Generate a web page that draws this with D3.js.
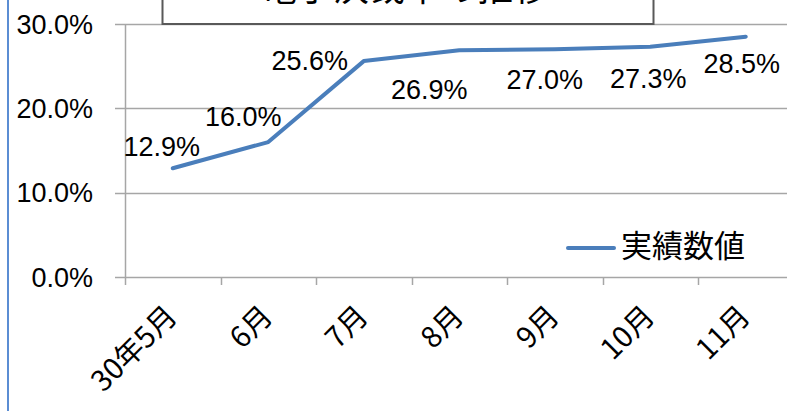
<html>
<head>
<meta charset="utf-8">
<script src="https://d3js.org/d3.v7.min.js"></script>
<style>
  body { margin: 0; background: #fff; }
  svg { display: block; }
</style>
</head>
<body>
<svg id="chart"></svg>
<script>
// 月ごとの実績
var months = ["30年5月", "6月", "7月", "8月", "9月", "10月", "11月"];
var rates = [0.129, 0.160, 0.256, 0.269, 0.270, 0.273, 0.285];
var yTicks = [0, 0.1, 0.2, 0.3];
var seriesName = "実績数値";
var titleText = "電子決裁率の推移";

// ラベルのずらし量 (px)
var labelShift = [[-11, -22], [-25, -26], [-54, -1], [-30, 39], [-10, 30], [-2, 32], [-4, 27]];

var W = 787, H = 411;
var svg = d3.select("#chart").attr("width", W).attr("height", H);
var jp = "'Noto Sans CJK JP', sans-serif";
var num = "'Liberation Sans', 'DejaVu Sans', sans-serif";

var x = d3.scaleBand().domain(months).range([125, 125 + 7 * 95.5]).paddingInner(0).paddingOuter(0);
var y = d3.scaleLinear().domain([0, 0.3]).range([277, 24]);
var cx = function(m) { return x(m) + x.bandwidth() / 2; };

// 左端の青線
svg.append("line").attr("x1", 8).attr("x2", 8).attr("y1", 0).attr("y2", H)
  .attr("stroke", "#5B8DD3").attr("stroke-width", 2);

// 目盛線
svg.selectAll(".grid").data(yTicks).enter().append("line")
  .attr("x1", 115).attr("x2", W)
  .attr("y1", function(d) { return Math.round(y(d)) + 0.5; })
  .attr("y2", function(d) { return Math.round(y(d)) + 0.5; })
  .attr("stroke", "#A6A6A6").attr("stroke-width", 1.5);

svg.append("line").attr("x1", 125.5).attr("x2", 125.5).attr("y1", y(0.3)).attr("y2", y(0) + 8)
  .attr("stroke", "#A6A6A6").attr("stroke-width", 1.5);

svg.selectAll(".xtick").data(months.slice(1)).enter().append("line")
  .attr("x1", function(d) { return Math.round(x(d)) + 0.5; })
  .attr("x2", function(d) { return Math.round(x(d)) + 0.5; })
  .attr("y1", y(0)).attr("y2", y(0) + 8)
  .attr("stroke", "#A6A6A6").attr("stroke-width", 1.5);

// Y軸ラベル
svg.selectAll(".ylab").data(yTicks).enter().append("text")
  .attr("x", 93).attr("y", function(d) { return y(d); })
  .attr("dy", "0.36em")
  .attr("text-anchor", "end")
  .style("font-family", num).style("font-size", "27px").style("fill", "#000")
  .text(function(d) { return d3.format(".1%")(d); });

// X軸ラベル
svg.selectAll(".xlab").data(months).enter().append("text")
  .attr("transform", function(d) { return "translate(" + (cx(d) + 6) + "," + 318 + ") rotate(-45)"; })
  .attr("text-anchor", "end")
  .style("font-family", jp).style("font-size", "29px").style("fill", "#000")
  .text(function(d) { return d; });

// 折れ線
var line = d3.line()
  .x(function(d, i) { return cx(months[i]); })
  .y(function(d) { return y(d); });

svg.append("path").datum(rates)
  .attr("d", line)
  .attr("fill", "none")
  .attr("stroke", "#4A7EBB")
  .attr("stroke-width", 4)
  .attr("stroke-linejoin", "round")
  .attr("stroke-linecap", "round");

// データラベル
svg.selectAll(".dlab").data(rates).enter().append("text")
  .attr("x", function(d, i) { return cx(months[i]) + labelShift[i][0]; })
  .attr("y", function(d, i) { return y(d) + labelShift[i][1]; })
  .attr("dy", "0.36em")
  .attr("text-anchor", "middle")
  .style("font-family", num).style("font-size", "27px").style("fill", "#000")
  .text(function(d) { return d3.format(".1%")(d); });

// タイトル枠 (上が切れている)
svg.append("rect").attr("x", 162.5).attr("y", -10).attr("width", 491).attr("height", 34)
  .attr("fill", "#fff").attr("stroke", "#595959").attr("stroke-width", 2);
svg.append("text").attr("x", 405).attr("y", 1)
  .attr("text-anchor", "middle")
  .style("font-family", jp).style("font-size", "36px").style("fill", "#000")
  .text(titleText);

// 凡例
svg.append("line").attr("x1", 568).attr("x2", 614).attr("y1", 248).attr("y2", 248)
  .attr("stroke", "#4A7EBB").attr("stroke-width", 4).attr("stroke-linecap", "round");
svg.append("text").attr("x", 621).attr("y", 246).attr("dy", "0.36em")
  .style("font-family", jp).style("font-size", "31px").style("fill", "#000")
  .text(seriesName);
</script>
</body>
</html>
